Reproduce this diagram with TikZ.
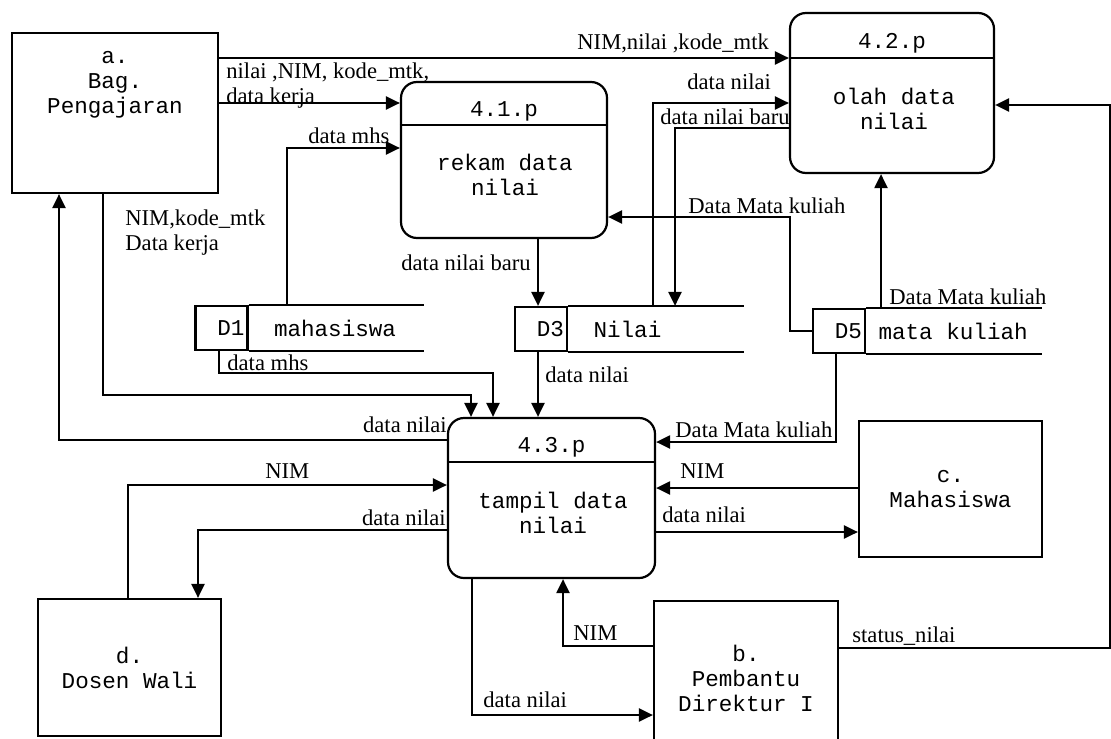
\documentclass[tikz,border=0pt]{standalone}
\usepackage{fontspec}
\setmainfont{Liberation Serif}
\setmonofont{Liberation Mono}
\usetikzlibrary{arrows.meta, positioning}

\begin{document}
\begin{tikzpicture}[
    x=0.5pt, y=-0.5pt,
    ext/.style={rectangle, draw, line width=1.1pt, align=center, font=\fontsize{11.3}{12.5}\selectfont\ttfamily},
    proc/.style={rectangle, rounded corners=8pt, draw, line width=1.1pt},
    ptxt/.style={align=center, inner sep=0pt, font=\fontsize{11.3}{12.5}\selectfont\ttfamily},
    stid/.style={rectangle, draw, line width=1.1pt, minimum height=22pt, text width=23pt, inner xsep=1.5pt, align=right, font=\fontsize{11.3}{12.5}\selectfont\ttfamily},
    stname/.style={inner sep=0pt, font=\fontsize{11.3}{12.5}\selectfont\ttfamily},
    lbl/.style={inner sep=0pt, align=left, font=\fontsize{11.3}{12.5}\selectfont},
    arr/.style={-{Triangle[length=7pt, width=6.5pt]}, line width=1.1pt},
]
    \useasboundingbox (0,0) rectangle (1111,738);

    % External entities
    \node[ext, minimum width=103pt, minimum height=80pt] (a) at (115,113) {};
    \node[ptxt] (atxt) at (115,85) {a.\\Bag.\\Pengajaran};
    \node[ext, minimum width=92pt, minimum height=77pt] (b) at (746,678) {b.\\Pembantu\\Direktur I};
    \node[ext, minimum width=91.5pt, minimum height=68pt] (c) at (950.5,489) {c.\\Mahasiswa};
    \node[ext, minimum width=91.5pt, minimum height=68.5pt] (d) at (129.5,667.5) {d.\\Dosen Wali};

    % Processes
    \node[proc, minimum width=103pt, minimum height=78pt] (p41) at (504,160) {};
    \draw[line width=0.8pt] ([yshift=-22pt]p41.north west) -- ([yshift=-22pt]p41.north east);
    \node[ptxt, anchor=base] (p41id) at ([yshift=-17.75pt]p41.north) {4.1.p};
    \node[ptxt] (p41txt) at (505,174.5) {rekam data\\nilai};

    \node[proc, minimum width=102pt, minimum height=80pt] (p42) at (892,93) {};
    \draw[line width=0.8pt] ([yshift=-23pt]p42.north west) -- ([yshift=-23pt]p42.north east);
    \node[ptxt, anchor=base] (p42id) at ([yshift=-18.5pt]p42.north) {4.2.p};
    \node[ptxt] (p42txt) at (894,109) {olah data\\nilai};

    \node[proc, minimum width=103.5pt, minimum height=80pt] (p43) at (551.5,498) {};
    \draw[line width=0.8pt] ([yshift=-22.5pt]p43.north west) -- ([yshift=-22.5pt]p43.north east);
    \node[ptxt, anchor=base] (p43id) at ([yshift=-18pt]p43.north) {4.3.p};
    \node[ptxt] (p43txt) at (553,512.5) {tampil data\\nilai};

    % Data stores
    \node[stid] (d1) at (221.5,328) {D1};
    \node[stname, right=12.5pt of d1] (d1name) {mahasiswa};
    \draw[line width=1.1pt] (d1.north east) -- ++(175,0) (d1.south east) -- ++(175,0);

    \node[stid] (d3) at (541,329) {D3};
    \node[stname, right=12.5pt of d3] (d3name) {Nilai};
    \draw[line width=1.1pt] (d3.north east) -- ++(176,0) (d3.south east) -- ++(176,0);

    \node[stid] (d5) at (839,331) {D5};
    \node[stname, right=6pt of d5] (d5name) {mata kuliah};
    \draw[line width=1.1pt] (d5.north east) -- ++(176,0) (d5.south east) -- ++(176,0);

    % Flows into 4.1.p and 4.2.p
    \draw[arr] (a.east |- 0,58) -- (p42.west |- 0,58);
    \node[lbl, anchor=base west] (l1) at (577,50) {NIM,nilai ,kode\_mtk};
    \draw[arr] (a.east |- 0,103) -- (p41.west |- 0,103);
    \node[lbl, anchor=base west] (l2) at (226,104) {nilai ,NIM, kode\_mtk,\\data kerja};
    \draw[arr] (d1.north -| 287,0) |- (p41.west |- 0,148);
    \node[lbl, anchor=base west] (l3) at (308,143) {data mhs};
    \draw[arr] (p41.south -| 538,0) -- (d3.north -| 538,0);
    \node[lbl, anchor=base west] (l4) at (401,270) {data nilai baru};
    \draw[arr] (d3.north -| 653,0) |- (p42.west |- 0,103);
    \node[lbl, anchor=base west] (l5) at (687,90) {data nilai};
    \draw[arr] (p42.west |- 0,128) -| (d3.north -| 675,0);
    \node[lbl, anchor=base west] (l6) at (660,124) {data nilai baru};
    \draw[arr] (d5.west) -- (d5.west -| 790,0) |- (p41.east |- 0,217);
    \node[lbl, anchor=base west] (l7) at (688,213) {Data Mata kuliah};
    \draw[arr] (d5.north -| 881,0) -- (p42.south -| 881,0);
    \node[lbl, anchor=base west] (l8) at (889,304) {Data Mata kuliah};
    \draw[arr] (b.east |- 0,648) -- (1110,648) |- (p42.east |- 0,105);
    \node[lbl, anchor=base west] (l9) at (852,642) {status\_nilai};

    % Flows around 4.3.p
    \draw[arr] (a.south -| 103,0) -- (103,395) -| (p43.north -| 471,0);
    \node[lbl, anchor=base west] (l10) at (125,250) {NIM,kode\_mtk\\Data kerja};
    \draw[arr] (d1.south -| 219,0) -- (219,373) -| (p43.north -| 493,0);
    \node[lbl, anchor=base west] (l11) at (227,370) {data mhs};
    \draw[arr] (d3.south -| 538,0) -- (p43.north -| 538,0);
    \node[lbl, anchor=base west] (l12) at (545,382) {data nilai};
    \draw[arr] (p43.west |- 0,440) -| (a.south -| 59,0);
    \node[lbl, anchor=base east] (l13) at (447,432) {data nilai};
    \draw[arr] (d5.south -| 836,0) |- (p43.east |- 0,442);
    \node[lbl, anchor=base west] (l14) at (675,437) {Data Mata kuliah};
    \draw[arr] (d.north -| 128,0) |- (p43.west |- 0,485);
    \node[lbl, anchor=base west] (l15) at (265,478) {NIM};
    \draw[arr] (p43.west |- 0,530) -| (d.north -| 198,0);
    \node[lbl, anchor=base east] (l16) at (446,525) {data nilai};
    \draw[arr] (c.west |- 0,488) -- (p43.east |- 0,488);
    \node[lbl, anchor=base west] (l17) at (680,478) {NIM};
    \draw[arr] (p43.east |- 0,532) -- (c.west |- 0,532);
    \node[lbl, anchor=base west] (l18) at (662,522) {data nilai};
    \draw[arr] (b.west |- 0,646) -| (p43.south -| 563,0);
    \node[lbl, anchor=base west] (l19) at (573,640) {NIM};
    \draw[arr] (p43.south -| 472,0) |- (b.west |- 0,715);
    \node[lbl, anchor=base west] (l20) at (483,707) {data nilai};
\end{tikzpicture}
\end{document}
